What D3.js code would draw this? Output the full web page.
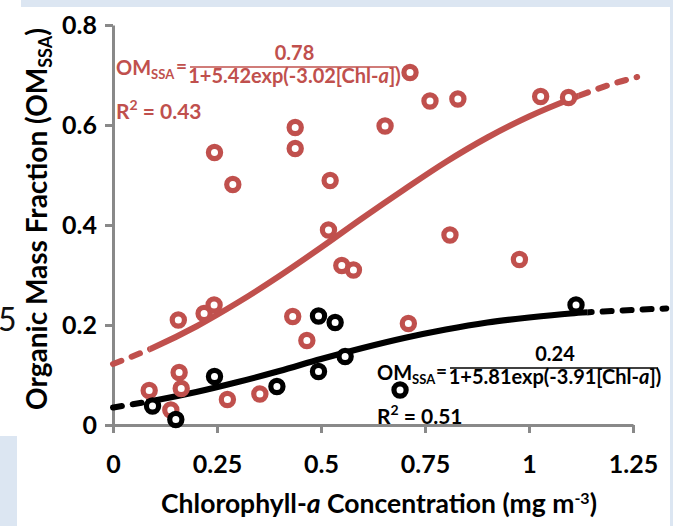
<!DOCTYPE html>
<html>
<head>
<meta charset="utf-8">
<script src="https://cdnjs.cloudflare.com/ajax/libs/d3/7.8.5/d3.min.js"></script>
<style>
  body { margin: 0; background: #fff; }
  svg { display: block; font-family: Lato, "Open Sans", sans-serif; font-weight: bold; }
</style>
</head>
<body>
<div id="chart"></div>
<script>
// values
var redX = [0.244, 0.288, 0.438, 0.438, 0.522, 0.654, 0.714, 0.762, 0.829, 1.028, 1.095,
  0.518, 0.55, 0.578, 0.81, 0.977, 0.157, 0.219, 0.243, 0.432, 0.466, 0.71,
  0.087, 0.159, 0.164, 0.139, 0.275, 0.353];
var redY = [0.545, 0.481, 0.595, 0.553, 0.489, 0.598, 0.705, 0.648, 0.652, 0.657, 0.655,
  0.39, 0.319, 0.31, 0.38, 0.331, 0.21, 0.223, 0.24, 0.217, 0.169, 0.203,
  0.069, 0.105, 0.073, 0.03, 0.051, 0.062];
var blackX = [0.095, 0.151, 0.244, 0.394, 0.494, 0.534, 0.558, 0.494, 0.69, 1.113];
var blackY = [0.038, 0.011, 0.097, 0.077, 0.218, 0.205, 0.137, 0.107, 0.07, 0.24];

// fitted curves
var redFitX = [0, 0.1, 0.2, 0.3, 0.4, 0.5, 0.6, 0.7, 0.8, 0.9, 1.0, 1.1, 1.2, 1.26];
var redFitY = [0.122, 0.156, 0.197, 0.245, 0.298, 0.355, 0.414, 0.471, 0.526, 0.575, 0.617, 0.652, 0.682, 0.696];
var blackFitX = [0, 0.1, 0.2, 0.3, 0.4, 0.5, 0.6, 0.7, 0.8, 0.9, 1.0, 1.1, 1.2, 1.3, 1.33];
var blackFitY = [0.035, 0.049, 0.066, 0.086, 0.108, 0.132, 0.154, 0.174, 0.191, 0.205, 0.215, 0.223, 0.228, 0.232, 0.233];
// part of each fit drawn solid (the rest is dashed)
var redSolid = [0.087, 1.12];
var blackSolid = [0.08, 1.14];

var xTicks = [0, 0.25, 0.5, 0.75, 1, 1.25];
var xTickLabels = ["0", "0.25", "0.5", "0.75", "1", "1.25"];
var yTicks = [0, 0.2, 0.4, 0.6, 0.8];
var yTickLabels = ["0", "0.2", "0.4", "0.6", "0.8"];

var width = 673, height = 526;
var red = "#c0504d", axisGrey = "#898989", paleBlue = "#dce6f2";

var svg = d3.select("#chart").append("svg")
  .attr("width", width)
  .attr("height", height);

// bits of the surrounding slide
svg.append("rect").attr("x", 21).attr("y", 0).attr("width", 652).attr("height", 7).attr("fill", paleBlue);
svg.append("rect").attr("x", 670).attr("y", 0).attr("width", 3).attr("height", height).attr("fill", paleBlue);
svg.append("rect").attr("x", 0).attr("y", 436).attr("width", 17).attr("height", 90).attr("fill", paleBlue);
svg.append("text").attr("x", -2).attr("y", 331)
  .style("font-weight", "normal").style("font-size", "32px").attr("fill", "#111").text("5");

var x = d3.scaleLinear().domain([0, 1.25]).range([113, 633]);
var y = d3.scaleLinear().domain([0, 0.8]).range([425, 25]);

var gx = svg.append("g").attr("transform", "translate(0,425)")
  .call(d3.axisBottom(x).tickValues(xTicks)
    .tickFormat(function(d, i) { return xTickLabels[i]; })
    .tickSize(8).tickSizeOuter(0).tickPadding(22));
var gy = svg.append("g").attr("transform", "translate(113,0)")
  .call(d3.axisLeft(y).tickValues(yTicks)
    .tickFormat(function(d, i) { return yTickLabels[i]; })
    .tickSize(8).tickSizeOuter(0).tickPadding(8));

[gx, gy].forEach(function(g) {
  g.select(".domain").attr("stroke", axisGrey).attr("stroke-width", 3);
  g.selectAll(".tick line").attr("stroke", axisGrey).attr("stroke-width", 3);
  g.selectAll(".tick text").attr("fill", "#000")
    .style("font-size", "25px").style("font-family", "Lato, sans-serif").style("font-weight", "bold");
});

// trend lines: solid over the data range, dashed outside it
var line = d3.line()
  .x(function(d) { return x(d[0]); })
  .y(function(d) { return y(d[1]); })
  .curve(d3.curveMonotoneX);

var defs = svg.append("defs");
function clip(id, x0, x1) {
  defs.append("clipPath").attr("id", id).append("rect")
    .attr("x", x0).attr("y", 0).attr("width", x1 - x0).attr("height", height);
}

function drawFit(name, xs, ys, solid, color) {
  var pts = xs.map(function(v, i) { return [v, ys[i]]; });
  clip(name + "-in", x(solid[0]), x(solid[1]));
  clip(name + "-lo", 0, x(solid[0]));
  clip(name + "-hi", x(solid[1]), width);
  svg.append("path").attr("d", line(pts)).attr("fill", "none")
    .attr("stroke", color).attr("stroke-width", 6)
    .attr("clip-path", "url(#" + name + "-in)");
  ["-lo", "-hi"].forEach(function(s) {
    svg.append("path").attr("d", line(pts)).attr("fill", "none")
      .attr("stroke", color).attr("stroke-width", 6)
      .attr("stroke-linecap", "round")
      .attr("stroke-dasharray", "9,11")
      .attr("clip-path", "url(#" + name + s + ")");
  });
}

drawFit("red", redFitX, redFitY, redSolid, red);
drawFit("black", blackFitX, blackFitY, blackSolid, "#000");

function drawPoints(xs, ys, color) {
  svg.append("g").selectAll("circle")
    .data(xs.map(function(v, i) { return [v, ys[i]]; }))
    .enter().append("circle")
    .attr("cx", function(d) { return x(d[0]); })
    .attr("cy", function(d) { return y(d[1]); })
    .attr("r", 6.1)
    .attr("fill", "#fff")
    .attr("stroke", color)
    .attr("stroke-width", 5.2);
}
drawPoints(redX, redY, red);
drawPoints(blackX, blackY, "#000");

// equations
function equation(color, ox, oy, num, den, r2, fx0, fx1, fy) {
  var g = svg.append("g").attr("fill", color);
  var t = g.append("text").attr("x", ox).attr("y", oy).style("font-size", "20px");
  t.append("tspan").text("OM");
  t.append("tspan").attr("dy", 4).style("font-size", "13px").text("SSA");
  g.append("text").attr("x", fx0 - 3).attr("y", oy - 2).attr("text-anchor", "end")
    .style("font-size", "19px").text("=");
  g.append("line").attr("x1", fx0).attr("x2", fx1).attr("y1", fy).attr("y2", fy)
    .attr("stroke", color).attr("stroke-width", 1.5);
  var cx = (fx0 + fx1) / 2 + 1;
  g.append("text").attr("x", cx).attr("y", fy - 7).attr("text-anchor", "middle")
    .style("font-size", "20px").text(num);
  var d = g.append("text").attr("x", cx).attr("y", fy + 16).attr("text-anchor", "middle")
    .style("font-size", "20px");
  d.append("tspan").text(den);
  d.append("tspan").style("font-style", "italic").text("a");
  d.append("tspan").text("])");
  var r = g.append("text").attr("x", ox).attr("y", oy + 44).style("font-size", "21px");
  r.append("tspan").text("R");
  r.append("tspan").attr("dy", -9).style("font-size", "14px").text("2");
  r.append("tspan").attr("dy", 9).text(" = " + r2);
}
equation(red, 116, 75, "0.78", "1+5.42exp(-3.02[Chl-", "0.43", 190, 397, 67);
equation("#000", 377, 380, "0.24", "1+5.81exp(-3.91[Chl-", "0.51", 450, 658, 368);

// axis titles
var xt = svg.append("text").attr("x", 379).attr("y", 513).attr("text-anchor", "middle")
  .style("font-size", "26.5px").attr("fill", "#000");
xt.append("tspan").text("Chlorophyll-");
xt.append("tspan").style("font-style", "italic").text("a");
xt.append("tspan").text(" Concentration (mg m");
xt.append("tspan").attr("dy", -9).style("font-size", "16px").text("-3");
xt.append("tspan").attr("dy", 9).text(")");

var yt = svg.append("text").attr("transform", "translate(47,219) rotate(-90)")
  .attr("text-anchor", "middle").style("font-size", "28px").attr("fill", "#000");
yt.append("tspan").text("Organic Mass Fraction (OM");
yt.append("tspan").attr("dy", 5).style("font-size", "18px").text("SSA");
yt.append("tspan").attr("dy", -5).text(")");
</script>
</body>
</html>
